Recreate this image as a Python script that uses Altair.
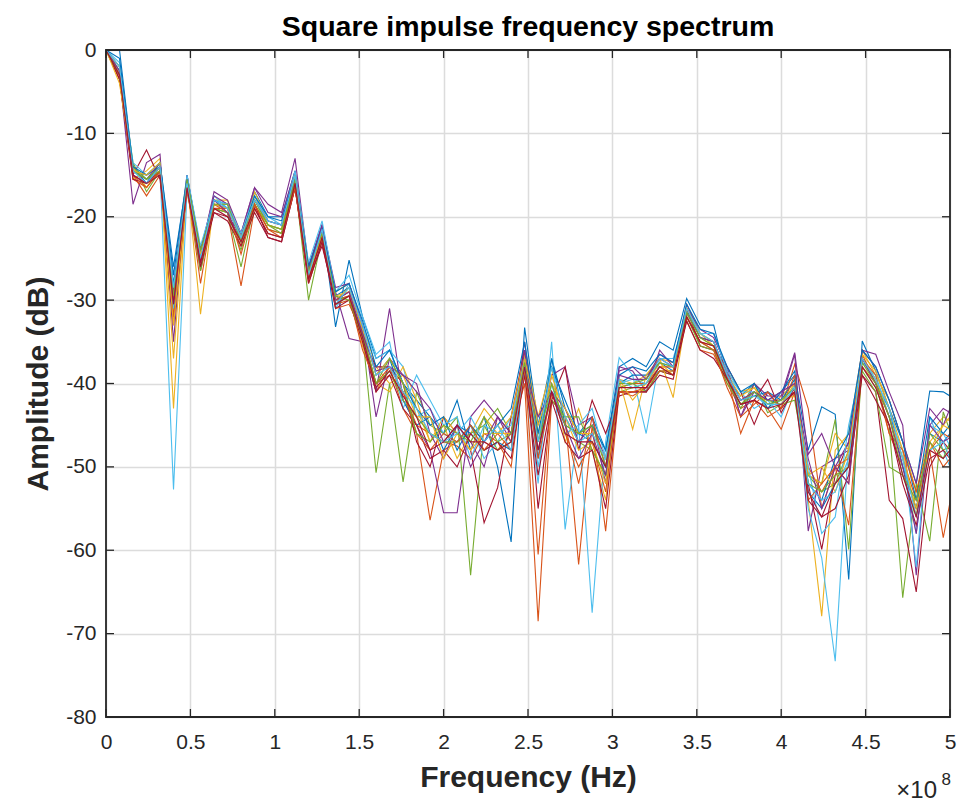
import altair as alt
import pandas as pd

FREQ_MHZ = [0, 8, 16, 24, 32, 40, 48, 56, 64, 72, 80, 88, 96, 104, 112, 120,
            128, 136, 144, 152, 160, 168, 176, 184, 192, 200, 208, 216, 224, 232, 240, 248,
            256, 264, 272, 280, 288, 296, 304, 312, 320, 328, 336, 344, 352, 360, 368, 376,
            384, 392, 400, 408, 416, 424, 432, 440, 448, 456, 464, 472, 480, 488, 496, 504]

S00 = [0, 0, -14.0, -16.0, -13.5, -27.0, -15.0, -24.0,
       -18.0, -18.5, -22.5, -17.0, -20.0, -20.0, -14.5, -26.0,
       -21.0, -33.2, -25.2, -32.0, -37.0, -36.0, -40.0, -42.0,
       -44.0, -46.0, -42.0, -48.0, -44.0, -50.0, -59.0, -33.3,
       -45.0, -37.0, -43.0, -46.0, -44.0, -48.0, -38.0, -37.0,
       -38.0, -35.0, -36.0, -29.8, -33.0, -33.0, -39.5, -41.5,
       -40.0, -42.0, -41.0, -39.0, -48.0, -42.8, -43.7, -63.5,
       -34.9, -38.5, -43.0, -47.0, -52.0, -40.9, -41.0, -42.0]
S01 = [0, -3.0, -15.0, -17.5, -15.0, -32.0, -16.5, -26.5,
       -19.0, -19.5, -28.3, -19.0, -22.0, -22.5, -16.5, -28.0,
       -23.0, -30.5, -30.0, -35.0, -41.0, -38.0, -43.0, -46.0,
       -56.4, -48.0, -47.0, -45.0, -47.0, -48.0, -46.0, -40.0,
       -68.5, -42.0, -44.0, -61.7, -45.0, -57.7, -41.0, -41.5,
       -40.5, -38.0, -39.0, -32.5, -36.0, -36.5, -40.0, -43.0,
       -42.0, -44.0, -43.0, -37.7, -43.0, -55.0, -50.0, -52.0,
       -36.5, -40.0, -46.0, -50.0, -55.0, -48.0, -58.5, -50.0]
S02 = [0, -3.5, -15.5, -14.5, -13.0, -43.0, -15.5, -31.7,
       -18.0, -18.0, -23.0, -17.0, -20.5, -21.0, -15.0, -26.5,
       -21.5, -29.0, -28.0, -33.0, -38.0, -40.0, -39.0, -43.0,
       -47.0, -45.0, -49.0, -46.0, -43.0, -45.0, -47.0, -36.0,
       -44.0, -38.0, -47.0, -43.0, -48.0, -54.0, -39.5, -40.0,
       -39.0, -37.0, -37.5, -31.0, -34.0, -35.5, -38.5, -41.0,
       -40.5, -43.0, -41.5, -40.0, -54.0, -67.9, -48.0, -46.0,
       -36.0, -39.0, -42.0, -47.0, -53.0, -46.0, -44.0, -45.0]
S03 = [0, -3.0, -18.5, -13.5, -12.5, -35.0, -15.5, -24.5,
       -17.0, -18.0, -22.0, -16.5, -18.5, -19.5, -13.0, -26.0,
       -21.0, -29.0, -34.6, -35.0, -41.0, -31.0, -42.0, -45.0,
       -48.0, -55.5, -55.5, -44.0, -42.0, -44.0, -46.0, -35.0,
       -47.0, -39.0, -38.0, -45.0, -44.0, -52.0, -38.0, -38.5,
       -41.0, -36.0, -38.0, -30.5, -34.0, -34.0, -38.5, -44.0,
       -41.0, -42.0, -42.0, -36.5, -57.7, -50.0, -49.0, -48.0,
       -36.0, -36.5, -41.0, -45.0, -63.0, -45.0, -43.0, -44.0]
S04 = [0, -2.0, -13.5, -17.0, -14.5, -29.0, -16.0, -26.0,
       -19.0, -19.5, -26.0, -18.5, -21.5, -22.0, -16.0, -30.0,
       -22.5, -30.0, -29.5, -34.0, -50.7, -40.0, -51.8, -41.0,
       -45.0, -46.0, -44.0, -63.0, -45.0, -43.0, -46.0, -38.0,
       -46.0, -41.0, -44.0, -47.0, -48.0, -51.0, -41.0, -40.5,
       -40.0, -38.5, -39.0, -32.0, -35.0, -36.0, -39.5, -43.0,
       -40.0, -43.5, -42.5, -41.0, -51.0, -52.0, -44.3, -59.9,
       -38.0, -40.5, -45.0, -65.7, -52.0, -58.9, -43.4, -48.0]
S05 = [0, -1.5, -14.0, -15.5, -14.5, -52.7, -17.0, -24.5,
       -17.5, -19.0, -22.0, -17.5, -20.0, -21.0, -15.0, -27.0,
       -22.0, -31.0, -28.0, -33.0, -37.0, -36.0, -38.0, -44.0,
       -43.0, -46.0, -47.0, -45.0, -49.0, -47.0, -44.0, -39.0,
       -52.0, -35.0, -57.5, -45.0, -67.5, -47.0, -36.9, -39.0,
       -46.0, -37.0, -37.0, -31.5, -34.0, -35.0, -39.0, -41.0,
       -43.0, -42.0, -44.0, -40.0, -55.0, -60.9, -73.3, -47.0,
       -37.0, -39.5, -44.0, -48.0, -62.0, -44.0, -48.0, -52.0]
S06 = [0, -3.5, -15.0, -12.0, -15.5, -31.0, -16.0, -25.0,
       -19.5, -20.0, -22.0, -18.5, -22.5, -23.0, -16.5, -27.5,
       -23.5, -30.0, -29.0, -34.5, -38.0, -38.0, -40.0, -47.0,
       -50.0, -44.0, -46.0, -48.0, -56.7, -52.5, -44.0, -36.0,
       -55.0, -42.0, -38.0, -48.0, -42.0, -46.0, -41.5, -41.0,
       -41.0, -38.5, -39.0, -31.0, -35.5, -36.0, -38.0, -41.0,
       -44.9, -41.0, -43.0, -41.0, -52.0, -59.9, -51.0, -47.0,
       -39.0, -41.0, -54.0, -56.2, -65.0, -50.0, -47.0, -49.0]
S07 = [0, -2.0, -14.5, -15.0, -14.0, -28.0, -16.5, -24.0,
       -18.5, -19.0, -22.5, -18.0, -21.0, -21.5, -15.5, -26.5,
       -21.5, -29.5, -28.5, -33.5, -39.0, -37.0, -42.0, -45.0,
       -44.0, -48.0, -45.0, -46.0, -48.0, -47.0, -48.0, -37.0,
       -49.0, -37.0, -45.0, -46.0, -47.0, -50.0, -40.0, -39.0,
       -39.0, -37.5, -38.5, -31.0, -34.5, -35.0, -39.0, -42.0,
       -41.5, -41.0, -42.0, -39.5, -53.0, -55.0, -52.0, -50.0,
       -37.0, -40.0, -43.0, -50.0, -55.0, -46.0, -47.0, -45.0]
S08 = [0, -2.5, -15.5, -16.5, -14.5, -32.0, -16.0, -28.0,
       -18.5, -19.5, -23.5, -18.5, -21.5, -22.0, -16.0, -27.5,
       -22.0, -31.0, -30.5, -34.0, -40.0, -39.0, -41.0, -45.0,
       -46.0, -47.0, -47.5, -49.0, -46.0, -47.0, -50.0, -38.0,
       -60.5, -41.0, -46.0, -50.0, -47.0, -53.0, -40.5, -40.0,
       -40.0, -38.0, -38.0, -32.0, -35.0, -35.5, -39.0, -46.0,
       -42.0, -43.0, -45.5, -41.0, -50.0, -53.0, -50.0, -57.0,
       -38.0, -40.0, -44.0, -49.0, -54.0, -48.0, -46.0, -47.0]
S09 = [0, -2.0, -14.0, -16.5, -14.0, -37.0, -15.5, -25.5,
       -18.5, -18.5, -22.5, -17.5, -21.0, -21.5, -15.5, -26.5,
       -22.0, -29.5, -29.0, -35.5, -40.0, -41.0, -38.0, -42.0,
       -47.0, -44.0, -46.0, -48.0, -44.0, -46.0, -44.0, -36.5,
       -46.0, -39.0, -44.0, -48.0, -47.0, -52.0, -39.5, -45.5,
       -39.0, -37.0, -41.7, -31.5, -34.5, -35.5, -39.5, -42.0,
       -41.0, -42.5, -42.0, -41.5, -51.0, -52.0, -46.0, -48.0,
       -36.5, -38.5, -43.0, -48.0, -56.0, -47.0, -45.0, -43.0]
S10 = [0, -3.0, -14.5, -15.5, -13.5, -29.0, -15.0, -24.0,
       -17.5, -18.5, -22.0, -16.5, -19.5, -20.0, -14.5, -26.0,
       -21.0, -28.5, -28.0, -33.0, -44.0, -37.0, -39.0, -40.0,
       -46.0, -49.0, -45.0, -47.0, -50.0, -44.0, -47.0, -36.0,
       -48.0, -41.0, -43.0, -47.0, -45.0, -49.0, -38.5, -38.0,
       -39.5, -36.5, -37.5, -31.0, -33.5, -34.5, -38.0, -44.0,
       -40.0, -41.5, -41.5, -36.3, -48.5, -46.0, -50.0, -47.0,
       -36.0, -38.0, -42.0, -47.0, -52.0, -43.0, -45.0, -41.0]
S11 = [0, -2.5, -14.0, -15.5, -14.0, -31.0, -16.5, -26.5,
       -19.0, -19.5, -24.0, -18.5, -21.0, -22.0, -16.0, -27.0,
       -22.5, -30.5, -29.5, -34.0, -40.0, -38.5, -42.0, -44.0,
       -46.0, -47.0, -47.0, -46.0, -45.0, -48.0, -47.0, -38.5,
       -47.0, -42.0, -44.0, -44.0, -48.0, -51.0, -40.5, -40.0,
       -41.0, -38.5, -38.5, -32.0, -35.5, -36.0, -40.0, -42.5,
       -41.5, -42.0, -42.5, -42.0, -51.0, -53.0, -52.0, -48.0,
       -38.5, -41.0, -50.0, -51.0, -56.0, -46.0, -48.0, -47.0]
S12 = [0, -2.5, -13.5, -15.0, -13.5, -31.0, -15.0, -23.5,
       -18.0, -18.5, -22.0, -17.5, -20.5, -21.0, -14.5, -25.5,
       -20.5, -29.0, -27.0, -32.0, -36.5, -35.0, -43.0, -39.0,
       -42.0, -45.0, -44.0, -49.0, -45.0, -46.0, -45.0, -37.0,
       -50.0, -40.0, -46.0, -45.0, -43.0, -49.0, -40.0, -39.5,
       -40.0, -37.5, -38.0, -31.5, -34.0, -34.0, -38.5, -41.0,
       -41.0, -43.0, -42.0, -40.5, -50.0, -58.0, -56.0, -45.0,
       -37.5, -39.0, -44.0, -49.0, -58.0, -45.0, -46.0, -49.0]
S13 = [0, -3.5, -15.5, -16.0, -14.5, -33.0, -16.5, -26.0,
       -19.5, -20.5, -23.5, -19.5, -22.5, -23.0, -16.5, -28.0,
       -23.0, -31.0, -30.0, -35.0, -41.0, -39.0, -43.0, -45.0,
       -49.0, -48.0, -50.0, -46.0, -48.0, -47.0, -49.0, -39.0,
       -51.0, -42.0, -47.0, -49.0, -48.0, -55.0, -41.0, -41.0,
       -41.0, -39.0, -39.5, -32.5, -36.0, -37.0, -39.5, -42.5,
       -42.0, -39.5, -43.5, -40.5, -53.0, -56.0, -55.0, -51.0,
       -39.0, -42.0, -45.0, -52.0, -57.0, -49.0, -48.0, -50.0]
S14 = [0, -1.0, -14.0, -15.0, -13.5, -26.0, -15.5, -24.5,
       -18.0, -19.0, -22.5, -17.5, -20.0, -20.5, -15.0, -26.0,
       -21.5, -29.0, -28.0, -32.5, -38.0, -36.0, -40.0, -43.0,
       -45.0, -44.0, -48.0, -45.0, -47.0, -45.0, -43.0, -35.0,
       -46.0, -38.0, -42.0, -46.0, -45.0, -48.0, -39.0, -38.0,
       -38.5, -36.5, -37.5, -30.5, -33.5, -34.0, -38.0, -41.0,
       -40.0, -43.0, -41.0, -38.5, -52.0, -54.0, -49.0, -46.0,
       -36.0, -38.0, -42.0, -47.0, -54.0, -44.0, -46.0, -44.0]
S15 = [0, -3.0, -15.0, -16.5, -14.5, -30.0, -17.0, -25.5,
       -19.0, -19.0, -24.5, -18.5, -21.5, -22.5, -16.5, -27.5,
       -22.5, -30.0, -29.5, -36.0, -40.0, -38.0, -41.0, -46.0,
       -48.0, -46.0, -47.0, -45.0, -48.0, -46.0, -48.0, -38.5,
       -49.0, -41.0, -45.0, -52.0, -44.0, -50.0, -41.0, -41.0,
       -40.5, -38.5, -38.5, -32.0, -35.0, -36.0, -40.5, -44.0,
       -42.5, -41.0, -43.0, -39.0, -54.0, -52.0, -50.0, -49.0,
       -37.0, -39.0, -46.0, -48.0, -53.0, -47.0, -50.0, -48.0]
S16 = [0, -4.0, -14.5, -15.0, -13.5, -33.0, -16.0, -24.5,
       -18.5, -19.0, -22.5, -18.0, -21.0, -21.5, -15.0, -27.0,
       -22.0, -30.0, -28.5, -33.5, -39.0, -37.0, -40.0, -44.0,
       -44.0, -49.0, -46.0, -48.0, -46.0, -46.0, -46.0, -37.0,
       -45.0, -40.0, -43.0, -46.0, -46.0, -49.0, -39.5, -42.0,
       -40.0, -37.5, -39.0, -31.0, -34.0, -35.0, -39.0, -41.5,
       -40.5, -42.5, -42.5, -40.0, -51.0, -50.0, -53.0, -48.0,
       -37.0, -39.5, -44.0, -49.0, -55.0, -48.0, -45.0, -46.0]
S17 = [0, -2.5, -15.0, -16.0, -14.0, -30.5, -16.0, -25.5,
       -18.0, -19.5, -23.0, -18.0, -20.5, -21.0, -15.5, -26.5,
       -21.5, -30.0, -29.0, -34.0, -38.5, -38.0, -39.0, -41.0,
       -43.0, -47.0, -45.0, -50.0, -47.0, -44.0, -46.0, -38.0,
       -44.0, -41.0, -45.0, -49.0, -46.0, -51.0, -39.0, -39.5,
       -39.5, -37.0, -38.0, -31.5, -34.5, -35.0, -39.0, -42.0,
       -41.0, -42.0, -41.0, -40.0, -49.0, -55.0, -50.0, -52.0,
       -37.0, -40.0, -44.0, -50.0, -58.0, -45.0, -47.0, -46.0]
S18 = [0, -3.0, -14.5, -15.5, -14.5, -29.5, -15.5, -24.0,
       -18.5, -18.5, -23.0, -18.0, -21.0, -21.5, -15.5, -26.5,
       -22.0, -29.5, -30.0, -34.5, -40.0, -37.0, -40.0, -46.0,
       -47.0, -45.0, -46.0, -47.0, -44.0, -47.0, -46.0, -37.5,
       -47.0, -40.0, -45.0, -46.0, -45.0, -50.0, -40.0, -40.0,
       -39.5, -37.5, -38.0, -31.5, -34.5, -35.5, -39.5, -42.5,
       -41.0, -42.5, -42.0, -40.5, -52.0, -53.0, -51.0, -50.0,
       -37.5, -40.0, -44.0, -51.0, -54.0, -47.0, -49.0, -45.0]
S19 = [0, -2.0, -14.5, -16.0, -14.0, -28.5, -16.0, -25.0,
       -18.0, -19.0, -22.5, -18.0, -20.5, -21.0, -15.0, -27.0,
       -21.5, -30.5, -28.5, -33.0, -39.0, -38.0, -41.0, -43.0,
       -46.0, -47.0, -46.0, -44.0, -47.0, -45.0, -48.0, -38.0,
       -47.0, -38.0, -44.0, -47.0, -46.0, -49.0, -39.5, -40.5,
       -40.0, -37.0, -38.0, -31.0, -34.0, -35.0, -39.0, -42.0,
       -41.5, -42.5, -42.5, -40.5, -52.0, -54.0, -53.0, -49.0,
       -37.0, -39.5, -43.0, -49.0, -56.0, -48.0, -47.0, -51.0]
S20 = [0, -3.0, -15.0, -16.0, -15.0, -30.5, -16.5, -25.5,
       -19.0, -20.0, -23.0, -19.0, -22.0, -22.5, -16.0, -27.5,
       -22.5, -30.5, -29.5, -34.5, -40.5, -38.5, -41.5, -44.0,
       -48.0, -47.0, -45.0, -47.0, -47.0, -48.0, -47.0, -38.0,
       -48.0, -41.0, -46.0, -47.0, -47.0, -50.0, -40.5, -40.5,
       -40.5, -38.0, -39.0, -32.0, -35.0, -35.5, -39.5, -42.5,
       -42.0, -43.0, -42.5, -41.0, -54.0, -56.0, -52.0, -50.0,
       -38.0, -40.5, -45.0, -51.0, -56.0, -48.0, -49.0, -47.0]

SERIES = [S00, S01, S02, S03, S04, S05, S06, S07, S08, S09, S10,
          S11, S12, S13, S14, S15, S16, S17, S18, S19, S20]

MATLAB_COLORS = ["#0072BD", "#D95319", "#EDB120", "#7E2F8E", "#77AC30", "#4DBEEE", "#A2142F"]

X_TICKS = [0, 0.5e8, 1e8, 1.5e8, 2e8, 2.5e8, 3e8, 3.5e8, 4e8, 4.5e8, 5e8]
Y_TICKS = [-80, -70, -60, -50, -40, -30, -20, -10, 0]

TITLE = "Square impulse frequency spectrum"
X_TITLE = "Frequency (Hz)"
Y_TITLE = "Amplitude (dB)"

W, H = 844, 667
FONT = "Liberation Sans, Arial, Helvetica, sans-serif"
AX = "#262626"

rows = []
names = []
for i, s in enumerate(SERIES):
    name = f"s{i:02d}"
    names.append(name)
    for f, v in zip(FREQ_MHZ, s):
        rows.append({"series": name, "freq": f * 1e6, "amp": v})
df = pd.DataFrame(rows)
colors = [MATLAB_COLORS[i % 7] for i in range(len(SERIES))]

xscale = alt.Scale(domain=[0, 5e8], nice=False, zero=False)
yscale = alt.Scale(domain=[-80, 0], nice=False, zero=False)

X_AXIS = alt.Axis(values=X_TICKS, labelExpr="format(datum.value / 1e8, '~g')",
                  title=X_TITLE, labelPadding=14, titlePadding=10, labelFlush=False)
Y_AXIS = alt.Axis(values=Y_TICKS, labelExpr="'' + datum.value", title=Y_TITLE,
                  labelPadding=10, titlePadding=12, labelFlush=False)


def xenc():
    return alt.X("freq:Q", scale=xscale, axis=X_AXIS)


def yenc():
    return alt.Y("amp:Q", scale=yscale, axis=Y_AXIS)


lines = alt.Chart(df).mark_line(strokeWidth=1.1, clip=True).encode(
    x=xenc(), y=yenc(),
    color=alt.Color("series:N", scale=alt.Scale(domain=names, range=colors), legend=None),
)

xt = pd.DataFrame({"freq": X_TICKS})
yt = pd.DataFrame({"amp": Y_TICKS})
tick_style = dict(color=AX, strokeWidth=1.3)
xb = alt.Chart(xt).mark_rule(**tick_style).encode(x=xenc(), y=alt.value(H), y2=alt.value(H - 8))
xtp = alt.Chart(xt).mark_rule(**tick_style).encode(x=xenc(), y=alt.value(0), y2=alt.value(8))
yl = alt.Chart(yt).mark_rule(**tick_style).encode(y=yenc(), x=alt.value(0), x2=alt.value(8))
yr = alt.Chart(yt).mark_rule(**tick_style).encode(y=yenc(), x=alt.value(W - 8), x2=alt.value(W))

frame = alt.Chart(pd.DataFrame({"k": [0]})).mark_rect(
    fill="transparent", stroke=AX, strokeWidth=1.8).encode(
    x=alt.value(0), x2=alt.value(W), y=alt.value(0), y2=alt.value(H))

exp_base = alt.Chart(pd.DataFrame({"t": ["\u00d710"]})).mark_text(
    font=FONT, fontSize=24, color=AX, align="right", baseline="alphabetic").encode(
    text="t:N", x=alt.value(W - 13), y=alt.value(H + 81))
exp_pow = alt.Chart(pd.DataFrame({"t": ["8"]})).mark_text(
    font=FONT, fontSize=17, color=AX, align="right", baseline="alphabetic").encode(
    text="t:N", x=alt.value(W + 1), y=alt.value(H + 68))

chart = alt.layer(lines, xb, xtp, yl, yr, frame, exp_base, exp_pow).properties(
    width=W, height=H,
    background="white",
    title=alt.TitleParams(TITLE, font=FONT, fontSize=28.5, fontWeight="bold", color="#000000",
                          anchor="middle", offset=-2),
    autosize=alt.AutoSizeParams(type="none"),
    padding={"left": 106, "top": 50, "right": 16, "bottom": 86},
).configure_view(
    stroke=None
).configure_axis(
    labelFont=FONT, labelFontSize=21, labelColor=AX,
    titleFont=FONT, titleFontSize=30, titleFontWeight="bold", titleColor=AX,
    domain=False, ticks=False, tickSize=0,
    grid=True, gridColor="#dcdcdc", gridWidth=1.5,
)

chart.save("out.html", embed_options={"renderer": "svg", "actions": False})
